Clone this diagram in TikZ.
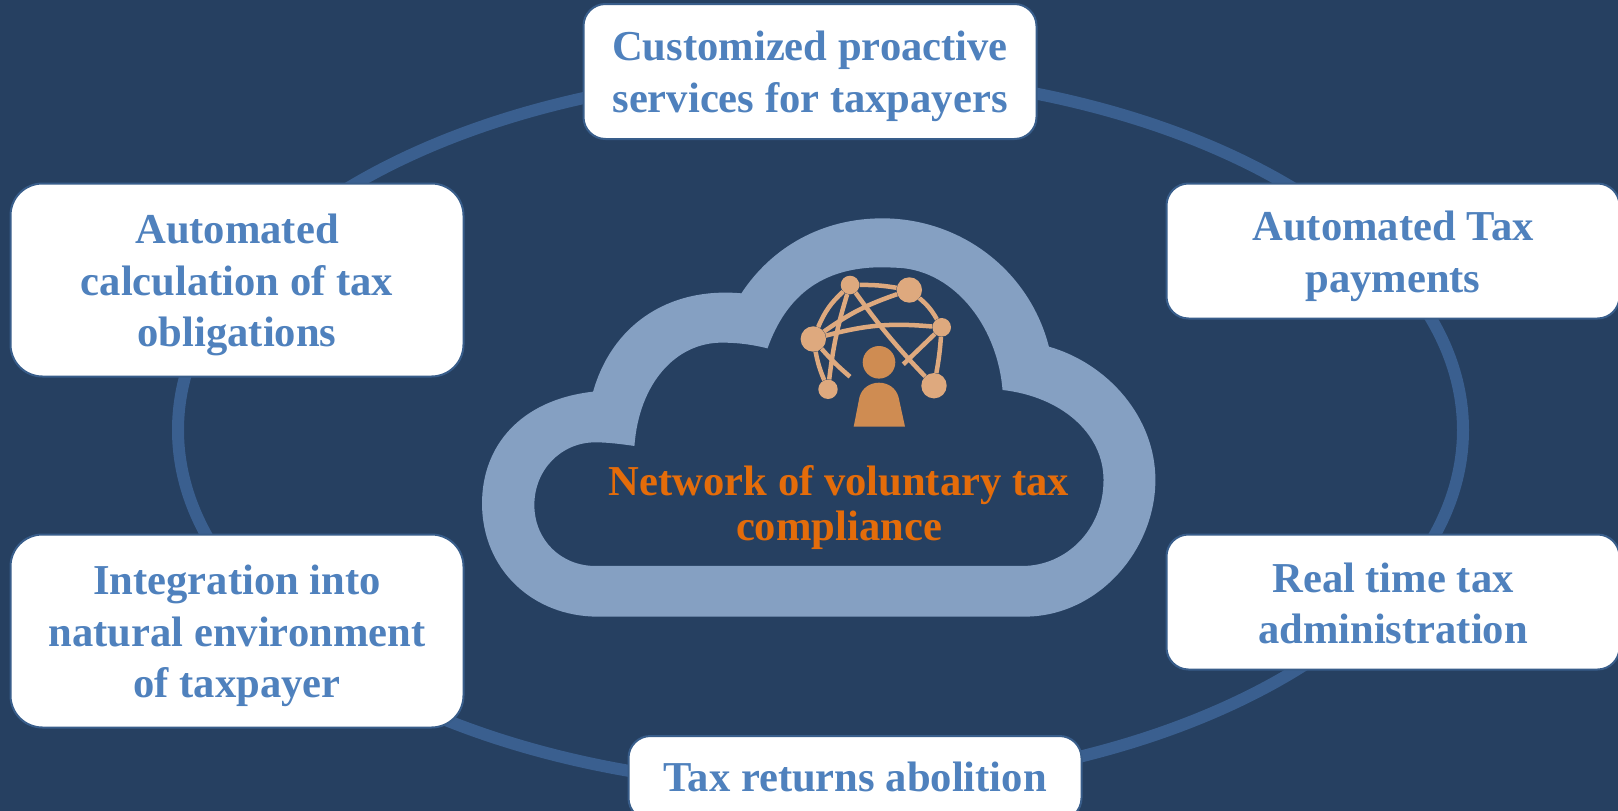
\documentclass[tikz,border=0pt]{standalone}
\usepackage{fontspec}
\setmainfont{Liberation Serif}
\definecolor{bgc}{HTML}{264061}
\definecolor{ringc}{HTML}{3A5F8F}
\definecolor{cloudc}{HTML}{85A0C2}
\definecolor{boxline}{HTML}{385D8A}
\definecolor{boxtext}{HTML}{4F81BD}
\definecolor{orangetext}{HTML}{E46C0A}
\definecolor{personc}{HTML}{CF8C52}
\definecolor{netc}{HTML}{DEA97E}
\tikzset{
  tallbox/.style={draw=boxline,line width=2pt,fill=white,rounded corners=32pt,minimum width=453pt,minimum height=193pt,inner sep=0pt,align=center,text=boxtext,font=\fontsize{42.6}{51.5}\selectfont\bfseries},
  flatbox/.style={tallbox,rounded corners=22pt,minimum height=135pt},
  netnode/.style={circle,fill=netc,inner sep=0pt},
  netlink/.style={draw=netc,line width=4.5pt},
}
\begin{document}
\begin{tikzpicture}[x=1pt,y=-1pt]
\useasboundingbox (0,0) rectangle (1618,811);
\clip (0,0) rectangle (1618,811);
\fill[bgc] (0,0) rectangle (1618,811);
\draw[ringc,line width=12pt] (820.5,430) ellipse [x radius=642.5,y radius=357];
% cloud
\begin{scope}[shift={(460,200)},x=0.459pt,y=-0.3333pt]
\fill[cloudc,even odd rule]
 (290,575) .. controls (130,600) and (48,740) .. (48,910)
 .. controls (48,1110) and (160,1250) .. (300,1250)
 -- (1230,1250)
 .. controls (1390,1250) and (1515,1050) .. (1515,840)
 .. controls (1515,650) and (1410,490) .. (1283,440)
 .. controls (1240,210) and (1090,55) .. (920,55)
 .. controls (790,55) and (680,140) .. (613,280)
 .. controls (450,260) and (330,380) .. (290,575) -- cycle
 (380,738) .. controls (350,732) and (320,727) .. (295,727)
 .. controls (220,727) and (162,810) .. (162,915)
 .. controls (162,1020) and (220,1098) .. (295,1098)
 -- (1225,1098)
 .. controls (1320,1098) and (1402,990) .. (1402,840)
 .. controls (1402,700) and (1310,590) .. (1182,570)
 .. controls (1170,370) and (1070,203) .. (945,203)
 .. controls (790,190) and (710,290) .. (670,445)
 .. controls (640,435) and (610,428) .. (570,428)
 .. controls (470,428) and (390,550) .. (380,738) -- cycle;
\end{scope}
% network
\node[netnode,minimum size=18.6pt] (a) at (850,285) {};
\node[netnode,minimum size=25.4pt] (b) at (909.3,290) {};
\node[netnode,minimum size=18.6pt] (c) at (941.7,327.3) {};
\node[netnode,minimum size=25.4pt] (d) at (934,385.7) {};
\node[netnode,minimum size=19.4pt] (e) at (828,389.3) {};
\node[netnode,minimum size=25.4pt] (f) at (813.3,339) {};
\coordinate (g) at (850,376.7);
\coordinate (h) at (903.3,364.3);
\draw[netlink] (a) to[bend left=5] (b);
\draw[netlink] (b) to[bend left=10] (c);
\draw[netlink] (c) to[bend left=3] (d);
\draw[netlink] (a) to[bend right=4] (d);
\draw[netlink] (f) to[bend left=10] (c);
\draw[netlink] (f) to[bend left=8] (b);
\draw[netlink] (f) to[bend left=12] (a);
\draw[netlink] (a) to[bend right=5] (e);
\draw[netlink] (f) to[bend right=6] (e);
\draw[netlink] (f) to[bend right=4] (g);
\draw[netlink] (c) to (h);
% person
\node[circle,fill=personc,inner sep=0pt,minimum size=32.6pt] (head) at (879,362.3) {};
\fill[personc] (853.7,426.7) -- (859.5,397) .. controls (862,388) and (870,382.7) .. (879,382.7)
 .. controls (888,382.7) and (896,388) .. (898.5,397) -- (905,426.7) -- cycle;
% boxes
\node[flatbox,text height=91pt] (top) at (810,71.5) {Customized proactive\\services for taxpayers};
\node[tallbox,text height=143pt] (la) at (237,280) {Automated\\calculation of tax\\obligations};
\node[tallbox,text height=143pt] (lb) at (237,631) {Integration into\\natural environment\\of taxpayer};
\node[flatbox,text height=92pt] (ra) at (1393,251) {Automated Tax\\payments};
\node[flatbox,text height=84pt] (rb) at (1393,602) {Real time tax\\administration};
\node[flatbox,minimum height=84pt,text height=27pt] (bot) at (855,778) {Tax returns abolition};
\node[align=center,text=orangetext,font=\fontsize{42.6}{45}\selectfont\bfseries,text height=82pt] (mid) at (839,504) {Network of voluntary tax\\compliance};
\end{tikzpicture}
\end{document}
